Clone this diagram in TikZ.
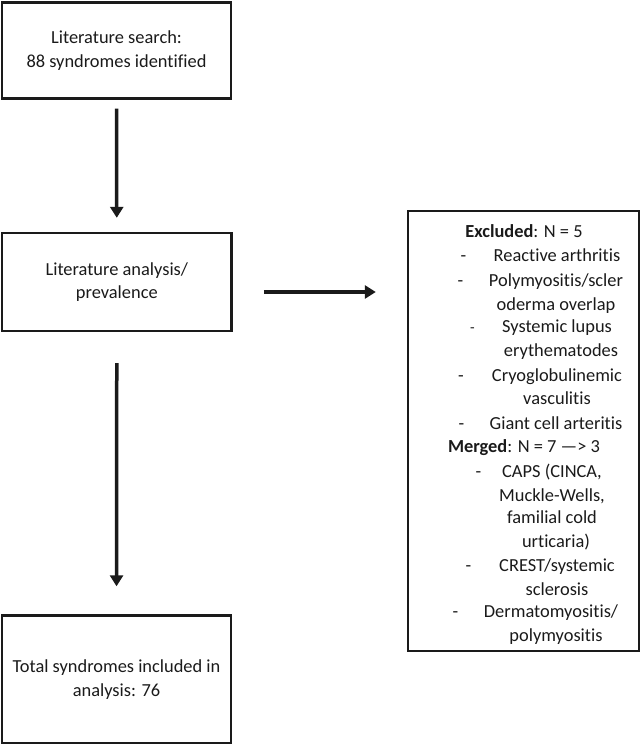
\documentclass[tikz,border=0pt]{standalone}
\usepackage{fontspec}
\setmainfont{Carlito}[Ligatures=NoCommon]
\usetikzlibrary{arrows.meta}
\definecolor{ink}{HTML}{1A1A1A}
\tikzset{
  box/.style={draw=ink, line width=2.4pt, inner sep=0pt, align=center, text=ink,
    font=\fontsize{18.4}{23.5}\selectfont},
  txt/.style={inner sep=0pt, anchor=base, text=ink, font=\fontsize{18.4}{23.5}\selectfont},
  arr/.style={draw=ink, line width=3.5pt, -{Triangle[width=13pt,length=11pt]}}
}
\begin{document}
\begin{tikzpicture}[x=1pt,y=-1pt]
\useasboundingbox (0,0) rectangle (640,744);
\node[box, minimum width=229pt, minimum height=96pt] (b1) at (116.5,50.5) {Literature search:\\88 syndromes identified};
\node[box, minimum width=229.5pt, minimum height=98pt] (b2) at (116.8,282) {Literature analysis/\\prevalence};
\node[box, minimum width=229pt, minimum height=128pt] (b3) at (116.5,679.5) {Total syndromes included in\\analysis: 76};
\node[box, minimum width=231pt, minimum height=440pt] (ex) at (523.5,431) {};
% right box content
\node[txt] (exh) at (524,237.5) {\textbf{Excluded}: N = 5};
\node[txt] (d1) at (463.5,261.5) {-};
\node[txt] (e1) at (557,261.5) {Reactive arthritis};
\node[txt] (d2) at (460.5,286) {-};
\node[txt] (e2a) at (556,286) {Polymyositis/scler};
\node[txt] (e2b) at (556,310) {oderma overlap};
\node[txt, font=\fontsize{15}{18}\selectfont] (d3) at (472.5,332.5) {-};
\node[txt] (e3a) at (557,332.5) {Systemic lupus};
\node[txt] (e3b) at (561,356) {erythematodes};
\node[txt] (d4) at (461,381) {-};
\node[txt] (e4a) at (557,381) {Cryoglobulinemic};
\node[txt] (e4b) at (557,404) {vasculitis};
\node[txt] (d5) at (461.5,429) {-};
\node[txt] (e5) at (556,429) {Giant cell arteritis};
\node[txt] (mh) at (524,452.5) {\textbf{Merged}: N = 7 —> 3};
\node[txt] (d6) at (478.5,477) {-};
\node[txt] (m1a) at (552,477) {CAPS (CINCA,};
\node[txt] (m1b) at (552,501) {Muckle-Wells,};
\node[txt] (m1c) at (552,523.5) {familial cold};
\node[txt] (m1d) at (556,547) {urticaria)};
\node[txt] (d7) at (468.5,571) {-};
\node[txt] (m2a) at (557,571) {CREST/systemic};
\node[txt] (m2b) at (557,595) {sclerosis};
\node[txt] (d8) at (455.5,617.5) {-};
\node[txt] (m3a) at (551,617.5) {Dermatomyositis/};
\node[txt] (m3b) at (556,641) {polymyositis};
% connectors
\draw[arr, shorten <=9pt, shorten >=14pt] (b1.south) -- (b2.north);
\coordinate (h1) at ([yshift=-10pt]b2.east);
\draw[arr, shorten <=31pt, shorten >=31pt] (h1) -- (h1 -| ex.west);
\draw[arr, shorten <=31pt, shorten >=28pt] (b2.south) -- (b3.north);
\end{tikzpicture}
\end{document}
